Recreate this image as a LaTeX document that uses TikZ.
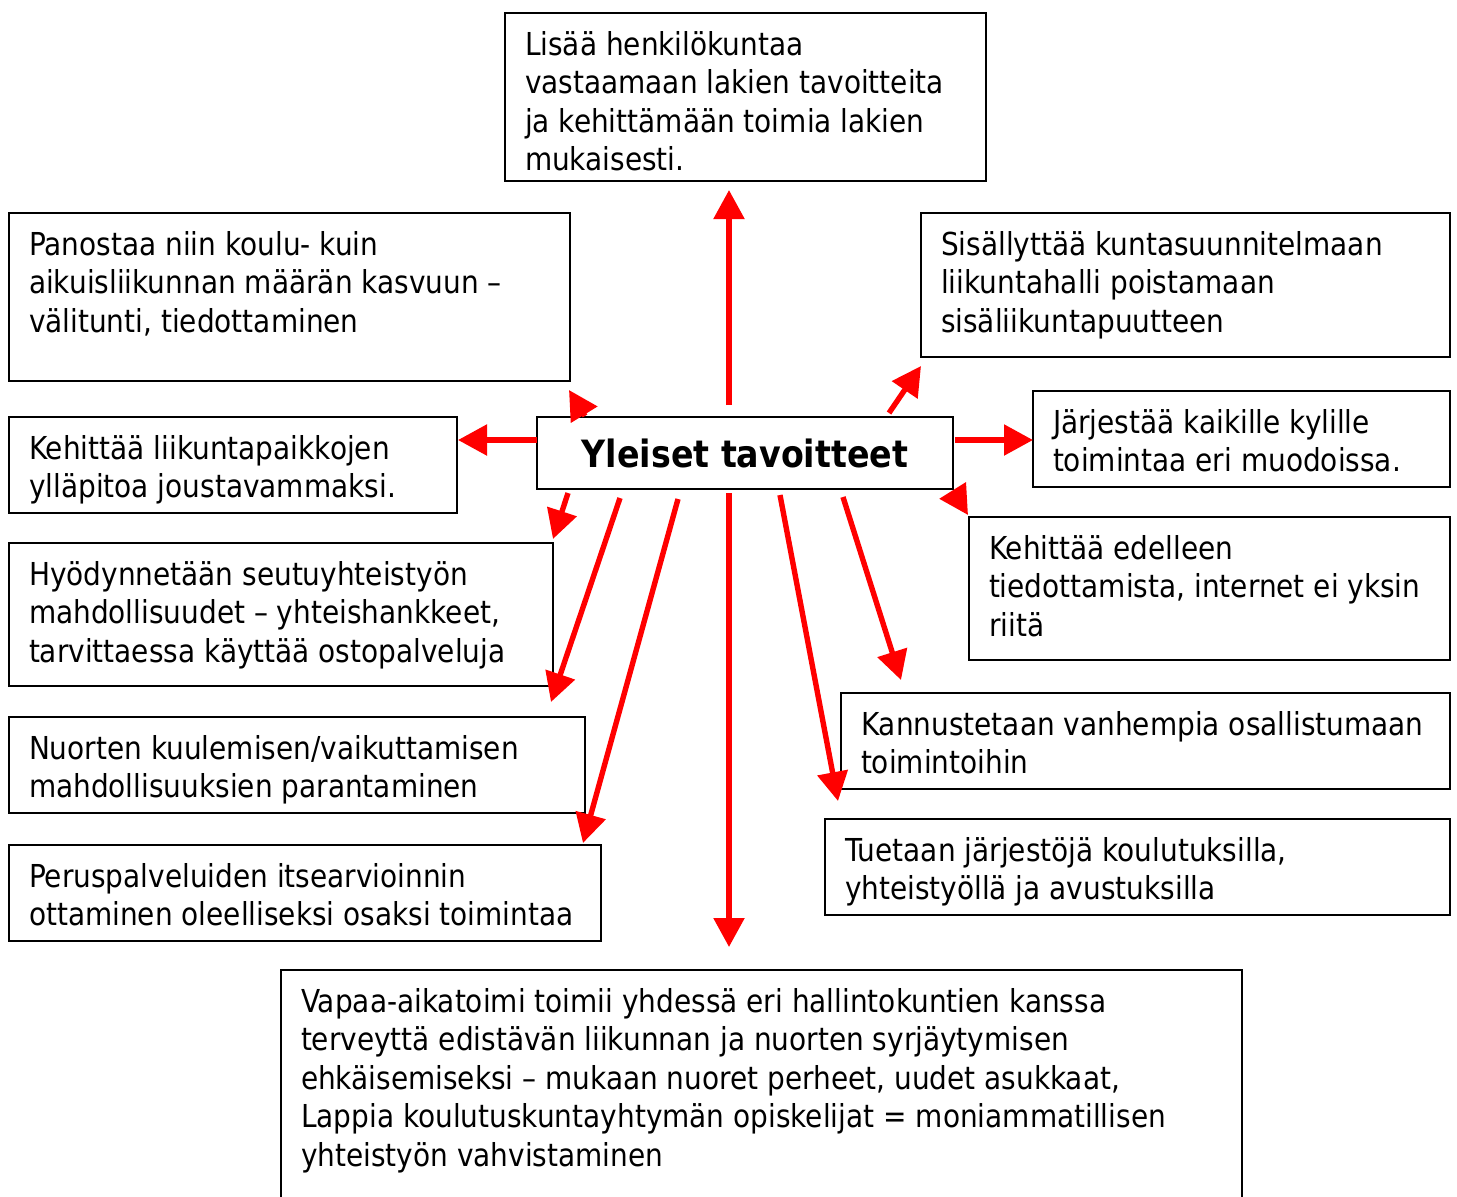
\documentclass[tikz,border=0pt]{standalone}
\usepackage{fontspec}
\setmainfont{DejaVu Sans}[FakeStretch=0.885]
\usetikzlibrary{arrows.meta}
\begin{document}
\begin{tikzpicture}[x=0.5pt,y=-0.5pt,
  boxst/.style={draw=black,line width=1pt,rectangle,inner sep=0pt,outer sep=0pt,anchor=north west},
  txt/.style={anchor=north west,inner sep=0pt,outer sep=0pt,align=left,font=\fontsize{15.8}{19.25}\selectfont},
  arr/.style={draw=red,line width=2.7pt,-{Triangle[width=15pt,length=14.5pt]},red}]
\clip (0,0) rectangle (1457,1196);
\fill[white] (0,0) rectangle (1457,1196);
% boxes
\node[boxst,minimum width=240.5pt,minimum height=84pt] (top) at (505,13) {};
\node[boxst,minimum width=280.5pt,minimum height=84pt] (pan) at (9,213) {};
\node[boxst,minimum width=264.5pt,minimum height=72pt] (sis) at (921,213) {};
\node[boxst,minimum width=224pt,minimum height=48pt] (kel) at (9,417) {};
\node[boxst,minimum width=208pt,minimum height=36pt,anchor=center,font=\fontsize{18.8}{23}\selectfont\bfseries] (cen) at (745,453) {Yleiset tavoitteet};
\node[boxst,minimum width=208.5pt,minimum height=48pt] (jar) at (1033,391) {};
\node[boxst,minimum width=240.5pt,minimum height=71.5pt] (ked) at (969,517) {};
\node[boxst,minimum width=272pt,minimum height=71.5pt] (hyo) at (9,543) {};
\node[boxst,minimum width=304.5pt,minimum height=48pt] (kan) at (841,693) {};
\node[boxst,minimum width=288pt,minimum height=48pt] (nuo) at (9,717) {};
\node[boxst,minimum width=312.5pt,minimum height=48pt] (tue) at (825,819) {};
\node[boxst,minimum width=296pt,minimum height=48pt] (per) at (9,845) {};
\node[boxst,minimum width=480.5pt,minimum height=120pt] (vap) at (281,970) {};
% texts
\node[txt] (ttop) at ([shift={(20,15.5)}]top.north west) {\strut Lisää henkilökuntaa\\vastaamaan lakien tavoitteita\\ja kehittämään toimia lakien\\mukaisesti.};
\node[txt] (tpan) at ([shift={(20,15.5)}]pan.north west) {\strut Panostaa niin koulu- kuin\\aikuisliikunnan määrän kasvuun –\\välitunti, tiedottaminen};
\node[txt] (tsis) at ([shift={(20,15.5)}]sis.north west) {\strut Sisällyttää kuntasuunnitelmaan\\liikuntahalli poistamaan\\sisäliikuntapuutteen};
\node[txt] (tkel) at ([shift={(20,15.5)}]kel.north west) {\strut Kehittää liikuntapaikkojen\\ylläpitoa joustavammaksi.};
\node[txt] (tjar) at ([shift={(20,15.5)}]jar.north west) {\strut Järjestää kaikille kylille\\toimintaa eri muodoissa.};
\node[txt] (tked) at ([shift={(20,15.5)}]ked.north west) {\strut Kehittää edelleen\\tiedottamista, internet ei yksin\\riitä};
\node[txt] (thyo) at ([shift={(20,15.5)}]hyo.north west) {\strut Hyödynnetään seutuyhteistyön\\mahdollisuudet – yhteishankkeet,\\tarvittaessa käyttää ostopalveluja};
\node[txt] (tkan) at ([shift={(20,15.5)}]kan.north west) {\strut Kannustetaan vanhempia osallistumaan\\toimintoihin};
\node[txt] (tnuo) at ([shift={(20,15.5)}]nuo.north west) {\strut Nuorten kuulemisen/vaikuttamisen\\mahdollisuuksien parantaminen};
\node[txt] (ttue) at ([shift={(20,15.5)}]tue.north west) {\strut Tuetaan järjestöjä koulutuksilla,\\yhteistyöllä ja avustuksilla};
\node[txt] (tper) at ([shift={(20,15.5)}]per.north west) {\strut Peruspalveluiden itsearvioinnin\\ottaminen oleelliseksi osaksi toimintaa};
\node[txt] (tvap) at ([shift={(20,15.5)}]vap.north west) {\strut Vapaa-aikatoimi toimii yhdessä eri hallintokuntien kanssa\\terveyttä edistävän liikunnan ja nuorten syrjäytymisen\\ehkäisemiseksi – mukaan nuoret perheet, uudet asukkaat,\\Lappia koulutuskuntayhtymän opiskelijat = moniammatillisen\\yhteistyön vahvistaminen};
% arrows
\draw[arr] ([shift={(-16,-12)}]cen.north) -- ([shift={(-16.5,9)}]top.south);
\draw[arr] ([shift={(-64,-4)}]cen.north east) -- ([shift={(0,9)}]sis.south west);
\draw[arr] ([shift={(2,-13)}]cen.east) -- ([shift={(0,1)}]jar.west);
\draw[arr] ([shift={(0,2)}]cen.south east) -- ([shift={(-1,-2)}]ked.north west);
\draw[arr] ([shift={(98,8)}]cen.south) -- ([shift={(60,-13)}]kan.north west);
\draw[arr] ([shift={(35,6)}]cen.south) -- ([shift={(13,-18)}]tue.north west);
\draw[arr] ([shift={(-16,4)}]cen.south) -- ([shift={(-32.5,-23)}]vap.north);
\draw[arr] ([shift={(-67,10)}]cen.south) -- ([shift={(-18,-2)}]per.north east);
\draw[arr] ([shift={(-125,9)}]cen.south) -- ([shift={(-34,-15)}]nuo.north east);
\draw[arr] ([shift={(31,4)}]cen.south west) -- ([shift={(0,-4)}]hyo.north east);
\draw[arr] ([shift={(0,-13)}]cen.west) -- ([shift={(1,-25)}]kel.east);
\draw[arr] ([shift={(48,-1)}]cen.north west) -- ([shift={(-1,9)}]pan.south east);
\end{tikzpicture}
\end{document}
